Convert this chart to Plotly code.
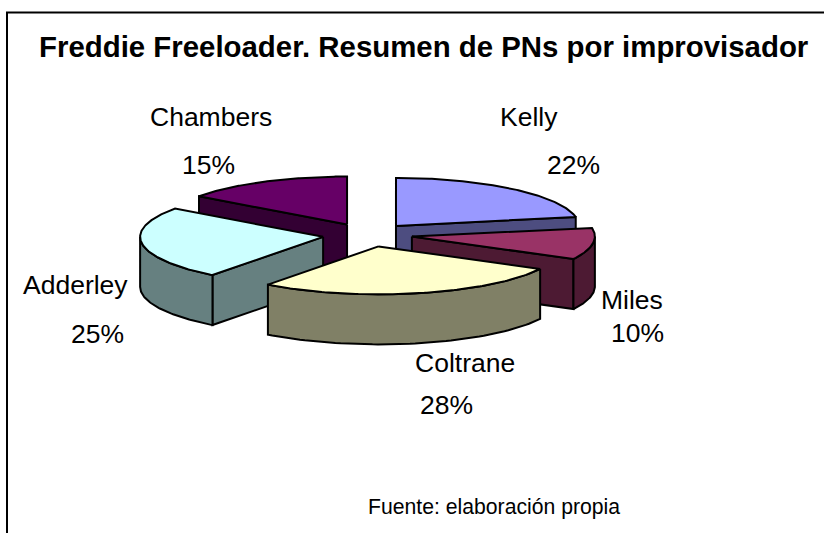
import numpy as np
import plotly.graph_objects as go

TITLE = "Freddie Freeloader. Resumen de PNs por improvisador"
SOURCE = "Fuente: elaboración propia"
names = ["Kelly", "Miles", "Coltrane", "Adderley", "Chambers"]
shares = [22, 10, 28, 25, 15]
top_colors = ["#9999FF", "#993366", "#FFFFCC", "#CCFFFF", "#660066"]
side_colors = ["#4D4D80", "#4D1A33", "#808066", "#668080", "#330033"]

# label placement (name, percent) in page pixels
name_pos = [(528.5, 117), (632, 300), (465, 363), (75.5, 284.5), (211, 117)]
pct_pos = [(573, 165), (637.5, 333), (446, 405), (97, 333.5), (208, 165)]

CX, CY, RX, RY, DEPTH, EXPLODE = 367.4, 235, 183, 48, 50, 0.245
ORDER = [4, 0, 1, 3, 2]  # painter's order, back to front
# slight angular distortion of the slice boundaries from the 3-D perspective
EDGE_SKEW_DEG = [0, 0, 2.8, 1.2, 0, 0]

fig = go.Figure()


def point(theta, centre, r=1.0):
    return centre[0] + r * RX * np.sin(theta), centre[1] - r * RY * np.cos(theta)


def face(xs, ys, color):
    fig.add_trace(go.Scatter(x=list(xs) + [xs[0]], y=list(ys) + [ys[0]], mode="lines",
                             fill="toself", fillcolor=color,
                             line=dict(color="black", width=2, shape="linear"),
                             hoverinfo="skip", showlegend=False))


total = sum(shares)
edges = np.concatenate([[0], np.cumsum(shares)]) / total * 2 * np.pi
skewed = edges + np.radians(EDGE_SKEW_DEG)
for i in ORDER:
    mid = (edges[i] + edges[i + 1]) / 2
    a, b = skewed[i], skewed[i + 1]
    centre = point(mid, (CX, CY), EXPLODE)
    # radial walls facing the viewer
    for th, visible in ((a, np.sin(a) < -1e-9), (b, np.sin(b) > 1e-9)):
        if visible:
            ox, oy = point(th, centre)
            face([centre[0], ox, ox, centre[0]],
                 [centre[1], oy, oy + DEPTH, centre[1] + DEPTH], side_colors[i])
    # outer rim, front half only
    lo, hi = max(a, np.pi / 2), min(b, 3 * np.pi / 2)
    if hi > lo:
        t = np.linspace(lo, hi, 60)
        rx, ry = point(t, centre)
        face(np.r_[rx, rx[::-1]], np.r_[ry, ry[::-1] + DEPTH], side_colors[i])
    # top
    t = np.linspace(a, b, 120)
    tx, ty = point(t, centre)
    face(np.r_[centre[0], tx], np.r_[centre[1], ty], top_colors[i])

LABEL = dict(family="Liberation Sans, Arial, sans-serif", size=26.5, color="black")
notes = []
for n, s, np_, pp in zip(names, shares, name_pos, pct_pos):
    notes.append(dict(x=np_[0], y=np_[1], text=n, font=LABEL))
    notes.append(dict(x=pp[0], y=pp[1], text=f"{s}%", font=LABEL))
notes.append(dict(x=423, y=46.5, text=f"<b>{TITLE}</b>",
                  font=dict(family="Liberation Sans, Arial, sans-serif", size=29.4, color="black")))
notes.append(dict(x=493.5, y=507, text=SOURCE,
                  font=dict(family="Liberation Sans, Arial, sans-serif", size=21.2, color="black")))
for n in notes:
    n.update(showarrow=False, xanchor="center", yanchor="middle", xref="x", yref="y")

fig.update_layout(
    width=824, height=533, margin=dict(l=0, r=0, t=0, b=0, pad=0), autosize=False,
    paper_bgcolor="white", plot_bgcolor="white", showlegend=False, annotations=notes,
    xaxis=dict(range=[0, 824], visible=False, fixedrange=True),
    yaxis=dict(range=[533, 0], visible=False, fixedrange=True),
    shapes=[dict(type="path", xref="x", yref="y",
                 path="M 7 540 L 7 12.5 L 830 12.5",
                 line=dict(color="black", width=2))],
)
fig.write_html("out.html", config=dict(displayModeBar=False),
               post_script="document.body.style.margin='0';document.body.style.overflow='hidden';")
